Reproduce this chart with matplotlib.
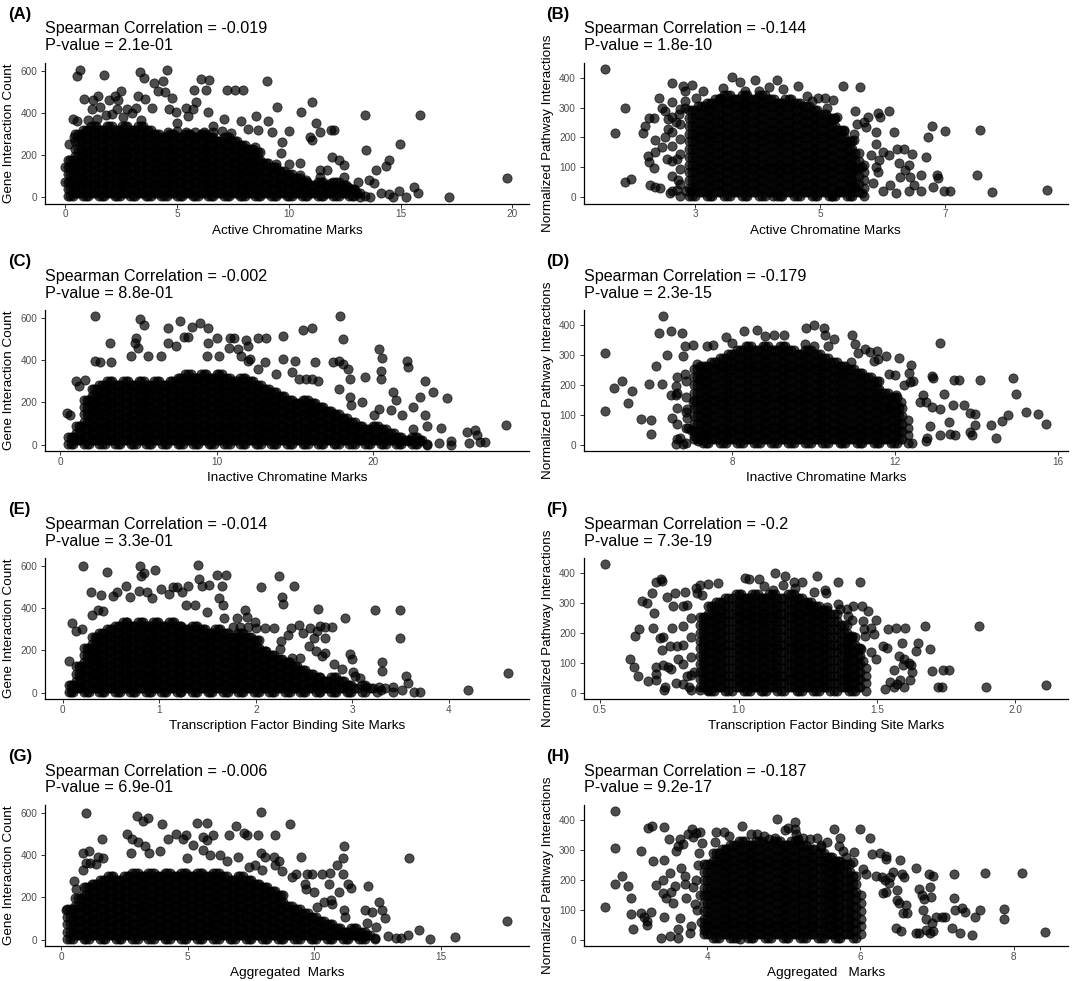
import matplotlib
matplotlib.use("Agg")
import matplotlib.pyplot as plt

plt.rcParams['font.family'] = ['Liberation Sans', 'DejaVu Sans']

# ---------------- data ----------------
panel_tags = ['(A)', '(B)', '(C)', '(D)', '(E)', '(F)', '(G)', '(H)']
spearman = ['-0.019', '-0.144', '-0.002', '-0.179', '-0.014', '-0.2', '-0.006', '-0.187']
pvalues = ['2.1e-01', '1.8e-10', '8.8e-01', '2.3e-15', '3.3e-01', '7.3e-19', '6.9e-01', '9.2e-17']
x_labels = ['Active Chromatine Marks', 'Active Chromatine Marks',
            'Inactive Chromatine Marks', 'Inactive Chromatine Marks',
            'Transcription Factor Binding Site Marks', 'Transcription Factor Binding Site Marks',
            'Aggregated  Marks', 'Aggregated   Marks']
y_labels = ['Gene Interaction Count', 'Normalized Pathway Interactions'] * 4
x_ticks = [[0, 5, 10, 15, 20], [3, 5, 7], [0, 10, 20], [8, 12, 16],
           [0, 1, 2, 3, 4], [0.5, 1.0, 1.5, 2.0], [0, 5, 10, 15], [4, 6, 8]]
x_ticklabels = [['0', '5', '10', '15', '20'], ['3', '5', '7'], ['0', '10', '20'], ['8', '12', '16'],
                ['0', '1', '2', '3', '4'], ['0.5', '1.0', '1.5', '2.0'], ['0', '5', '10', '15'], ['4', '6', '8']]
x_limits = [(-0.92, 20.75), (1.21, 8.96), (-1.0, 30.0), (4.35, 16.25),
            (-0.186, 4.83), (0.44, 2.19), (-0.64, 18.47), (2.385, 8.71)]
y_ticks_gene = [0, 200, 400, 600]
y_ticks_path = [0, 100, 200, 300, 400]
y_limits_gene = (-30.4, 638.4)
y_limits_path = (-21.5, 451.5)

# isolated / edge points (x, y)
A_pts = [(0.65,605),(0.54,573),(1.74,581),(3.32,594),(3.52,566),(4.55,605),(3.96,542),(4.35,553),
(6.06,558),(6.41,555),(5.74,506),(6.30,506),(5.83,453),(6.40,402),(7.23,506),(7.60,506),(7.96,506),
(9.02,550),(8.51,383),(9.05,362),(9.48,425),(9.68,261),(9.64,209),(10.02,312),(10.56,402),(11.03,452),
(11.22,350),(11.41,308),(10.95,284),(11.03,269),(11.87,316),(12.03,316),(11.95,191),(12.26,175),(12.49,152),
(11.72,128),(11.38,128),(13.42,389),(13.46,222),(13.91,128),(14.37,147),(14.50,178),(14.96,253),(15.88,389),
(15.62,47),(15.80,19),(14.93,27),(14.65,0),(14.11,19),(15.23,0),(17.15,0),(19.77,89),(13.57,81),(13.80,69),
(13.10,73),(14.50,14),(13.65,0),(13.20,0),
(0.85,464),(1.23,459),(1.46,480),(1.97,459),(2.24,480),(2.50,503),(2.36,459),(1.20,417),(1.57,425),(2.78,417),
(3.16,422),(3.27,480),(3.55,464),(3.86,422),(4.16,503),(4.44,500),(4.78,472),(4.63,417),(4.97,402),(5.01,350),
(5.40,422),(5.47,386),(5.71,417),(6.63,339),(7.09,370),(7.86,362),(8.17,323),(0.34,370),(0.15,253),(0.0,144),
(0.0,73),(0.39,284),(8.48,237),(9.25,308),(8.63,316),(9.41,159),(10.02,159),(10.49,164),(10.49,105),(10.79,81),
(11.41,97),(11.87,66),(12.49,97),(12.64,50),(12.95,34),
(4.6,310),(5.0,312),(5.4,310),(5.8,308),(6.2,310),(6.6,308),(7.0,312),(7.4,306),
(1.0,365),(1.4,370),(1.8,390),(2.1,395),(2.6,380),(3.0,400),(3.4,365),(2.3,420),(0.54,362)]

C_pts = [(2.20,608),(5.07,595),(5.36,569),(6.90,553),(7.65,584),(8.45,558),(8.93,576),(9.44,553),(7.94,511),(8.16,511),
(10.03,506),(10.87,506),(11.14,506),(12.63,506),(13.19,506),(14.27,514),(15.50,545),(16.10,553),(17.93,608),(18.08,499),
(11.90,494),(12.02,467),(4.85,506),(4.79,483),(4.96,460),(4.52,421),(5.62,421),(3.20,483),(2.20,397),(2.54,390),
(3.24,390),(6.46,421),(6.90,483),(7.39,467),(9.37,421),(10.14,421),(9.48,483),(10.80,460),(11.36,452),(11.58,421),
(12.13,405),(12.02,397),(13.08,390),(12.68,358),(13.78,335),(14.22,405),(14.99,397),(14.84,343),(16.31,390),(17.42,390),
(17.86,397),(18.08,382),(18.41,358),(18.52,312),(17.86,265),(18.52,226),(18.59,187),(19.34,203),(19.51,319),(20.07,140),
(20.40,455),(20.58,413),(20.51,351),(20.51,312),(20.40,171),(21.28,249),(21.50,210),(21.17,164),(21.90,140),(22.16,397),
(22.27,366),(22.60,179),(23.04,226),(23.37,304),(23.88,249),(23.31,140),(22.60,73),(23.48,86),(24.37,78),(24.77,223),
(24.26,8),(25.03,16),(25.03,0),(26.02,62),(26.53,70),(26.68,47),(26.13,8),(26.84,11),(27.19,11),(28.55,94),
(23.48,0),(21.76,16),(23.04,16),(22.27,16),(15.3,310),(15.7,310),(16.1,310),(16.5,300),
(0.45,150),(0.6,140),(1.2,280),(1.0,300),(1.6,305)]

E_pts = [(0.21,600),(0.46,572),(0.29,479),(0.40,464),(0.52,460),(0.56,479),(0.66,504),(0.80,600),(0.81,553),(0.84,569),
(0.96,581),(1.02,491),(0.79,484),(0.87,476),(0.92,448),(0.70,453),(1.10,468),(1.14,499),(1.18,502),(1.24,476),
(1.30,504),(1.40,603),(1.41,541),(1.44,504),(1.51,510),(1.60,557),(1.69,557),(1.65,504),(1.62,448),(1.66,417),
(1.67,355),(1.28,414),(1.37,414),(1.49,383),(1.81,355),(1.89,391),(1.91,360),(1.99,336),(2.05,502),(2.24,553),
(2.27,453),(2.28,422),(2.40,504),(2.10,305),(2.19,305),(2.36,305),(2.45,321),(2.33,274),(2.26,243),(2.25,205),
(2.37,166),(2.46,166),(2.49,282),(2.56,308),(2.63,290),(2.67,318),(2.72,313),(2.64,398),(2.79,313),(2.72,259),
(2.72,189),(2.60,259),(2.55,220),(2.62,197),(2.69,174),(2.81,135),(2.89,112),(2.92,352),(2.98,181),(3.00,158),
(3.01,96),(3.03,81),(3.08,70),(3.14,26),(3.28,26),(3.30,11),(3.23,391),(3.31,143),(3.31,104),(3.49,391),
(3.49,259),(3.51,11),(3.56,81),(3.58,45),(3.64,3),(3.70,3),(3.42,26),(4.20,14),(4.61,91),
(1.76,310),(1.84,310),(1.92,310),(2.00,305),(0.10,330),(0.14,290),(0.06,150),(0.20,300),(0.30,370),(0.36,390),(0.42,385)]

G_pts = [(0.99,600),(3.00,588),(3.23,564),(3.44,575),(3.98,549),(5.37,554),(5.75,554),(5.75,472),(5.61,487),(5.99,498),
(6.63,498),(6.92,538),(7.21,507),(7.35,498),(7.76,498),(7.88,603),(8.46,495),(9.04,549),(1.60,475),(1.10,421),
(0.86,410),(2.60,503),(2.79,479),(3.03,464),(3.30,445),(2.76,410),(3.46,410),(3.89,418),(4.23,479),(4.52,503),
(4.80,479),(4.93,495),(5.20,448),(4.97,387),(5.61,425),(5.88,402),(6.29,402),(6.56,371),(6.97,394),(7.40,343),
(7.65,356),(7.89,410),(8.06,390),(7.92,332),(8.40,394),(8.46,356),(8.60,371),(8.74,325),(9.12,297),(9.48,394),
(9.28,309),(9.69,309),(9.62,263),(9.65,240),(9.99,224),(9.89,309),(10.30,309),(10.61,317),(10.88,356),(11.13,387),
(11.18,445),(11.11,309),(10.57,263),(10.67,186),(10.98,224),(11.32,263),(11.45,247),(12.13,255),(10.10,155),(10.37,178),
(10.71,170),(11.18,139),(11.22,108),(12.00,139),(12.07,77),(12.27,131),(12.54,178),(12.68,139),(12.79,101),(12.43,62),
(12.92,15),(13.22,8),(13.42,8),(13.70,23),(14.14,46),(13.74,387),(14.58,3),(15.56,11),(17.60,90),(11.70,15),
(12.00,15),(12.40,8),(0.18,139),(0.52,278),(0.61,240),(0.99,363),(0.86,332),(1.15,363),(1.47,394),(1.37,359),(1.67,387)]

B_pts = [(1.56,430),(1.71,215),(1.88,298),(1.88,52),(1.97,60),(2.16,215),(2.20,240),(2.25,265),(2.33,265),(2.42,334),
(2.46,298),(2.51,290),(2.24,137),(2.35,151),(2.27,41),(2.36,35),(2.43,30),(2.25,117),(2.33,96),(2.35,190),
(2.46,168),(2.62,383),(2.63,320),(2.56,262),(2.56,229),(2.54,129),(2.51,200),(2.69,251),(2.74,279),(2.80,372),
(2.94,376),(2.83,356),(2.83,323),(2.83,298),(2.70,129),(2.72,57),(2.70,24),(2.85,22),(2.93,22),(3.01,334),
(3.12,356),(2.59,13),
(3.58,402),(3.72,386),(3.95,392),(4.31,392),(4.18,369),(3.44,365),(3.39,334),(3.80,356),(4.02,356),(4.40,361),
(4.64,372),(4.79,339),(4.96,334),(5.08,334),(5.20,325),(5.36,372),(5.64,369),(4.87,323),(5.11,298),(5.26,267),
(5.22,262),(5.55,290),(5.37,223),(5.58,245),(5.70,253),(5.76,270),(5.73,234),(5.53,210),(5.53,190),(5.92,282),
(6.09,290),(5.96,267),(5.89,218),(6.00,151),(5.94,124),(5.89,102),(5.92,85),(5.84,46),(6.00,19),(6.11,41),
(6.18,218),(6.10,140),(6.25,113),(6.28,69),(6.36,91),(6.42,107),(6.47,144),(6.43,69),(6.49,41),(6.21,13),
(6.42,19),(6.61,74),(6.61,19),(6.69,135),(6.72,201),(6.79,240),(6.80,35),(6.86,74),(6.88,63),(6.97,21),
(7.08,21),(6.99,223),(7.50,74),(7.56,225),(7.74,17),(8.62,24),(6.23,162),(6.34,162),(5.89,179),(5.81,140),
(5.67,102),(5.53,91),(5.56,35),(5.66,13),(5.29,19),(5.18,2),(4.24,2)]

D_pts = [(4.88,306),(4.88,112),(5.09,190),(5.29,212),(5.44,138),(5.55,179),(5.76,86),(6.01,83),(6.01,35),(5.95,204),
(6.12,264),(6.20,375),(6.30,430),(6.29,204),(6.39,300),(6.50,382),(6.77,375),(6.79,298),(6.84,331),(7.05,333),
(6.84,237),(6.61,198),(6.61,168),(6.50,165),(6.52,88),(6.62,2),(6.71,22),(6.79,2),(6.92,55),(7.00,50),
(7.06,28),(7.26,28),(7.17,11),(7.13,270),(7.22,264),(7.38,331),(7.54,333),(7.20,220),(7.05,143),(6.88,121),
(6.90,88),(7.85,361),(7.99,342),(8.29,380),(8.61,386),(8.82,364),(9.03,366),(9.28,369),(9.81,391),(10.02,400),
(10.25,391),(10.28,366),(10.51,353),(10.35,331),(9.79,336),(10.00,331),(10.95,369),(11.03,339),(11.10,306),(10.93,278),
(11.27,320),(11.39,311),(11.56,314),(11.77,298),(11.59,287),(11.48,281),(12.09,292),(12.39,267),(12.35,240),(12.01,234),
(11.86,237),(12.36,209),(12.45,215),(12.21,200),(12.68,165),(12.77,143),(12.62,143),(12.91,229),(12.94,223),(13.11,342),
(13.21,171),(12.91,125),(13.11,118),(12.87,61),(12.78,22),(12.77,13),(12.43,5),(13.11,33),(13.33,77),(13.42,134),
(13.44,217),(13.58,217),(13.36,35),(13.47,31),(13.70,134),(13.84,105),(13.97,101),(13.84,42),(13.88,31),(14.09,217),
(13.97,66),(14.37,66),(14.49,22),(14.64,79),(14.77,99),(14.89,224),(14.98,171),(15.23,108),(15.51,102),(15.70,69),
(12.03,165),(12.16,143),(11.86,121)]

F_pts = [(0.519,430),(0.608,113),(0.621,87),(0.627,190),(0.639,215),(0.637,54),(0.652,308),(0.670,301),(0.674,39),(0.689,334),
(0.695,267),(0.692,218),(0.701,85),(0.701,63),(0.701,43),(0.701,372),(0.720,381),(0.724,375),(0.716,182),(0.726,185),
(0.724,143),(0.726,91),(0.733,19),(0.729,8),(0.745,85),(0.741,319),(0.751,157),(0.757,80),(0.770,334),(0.764,290),
(0.761,218),(0.774,32),(0.776,157),(0.782,113),(0.807,339),(0.813,295),(0.813,57),(0.820,19),(0.838,69),(0.848,350),
(0.861,361),(0.888,364),(0.869,328),(0.851,334),(0.861,8),(0.888,8),(0.925,367),(1.025,386),(1.037,381),(1.075,381),
(1.093,356),(1.124,345),(1.131,400),(1.168,392),(1.162,361),(1.199,372),(1.228,370),(1.205,352),(1.271,339),(1.284,392),
(1.311,345),(1.317,334),(1.321,286),(1.255,295),(1.361,370),(1.438,370),(1.358,297),(1.367,282),(1.392,282),(1.396,256),
(1.413,290),(1.445,290),(1.466,273),(1.448,240),(1.410,245),(1.495,242),(1.491,198),(1.479,218),(1.454,215),(1.458,190),
(1.410,190),(1.442,146),(1.479,135),(1.498,113),(1.448,107),(1.520,157),(1.535,151),(1.541,215),(1.560,76),(1.570,218),
(1.578,124),(1.597,113),(1.603,218),(1.582,43),(1.594,91),(1.572,30),(1.560,19),(1.547,35),(1.529,13),(1.591,168),
(1.616,98),(1.622,91),(1.628,69),(1.619,41),(1.597,19),(1.641,140),(1.647,165),(1.674,223),(1.690,146),(1.697,71),
(1.719,19),(1.734,19),(1.740,76),(1.759,76),(1.868,223),(1.893,19),(2.109,24)]

H_pts = [(2.67,110),(2.80,431),(2.80,306),(2.80,188),(2.89,212),(2.96,179),(3.00,138),(3.00,85),(3.03,35),(3.13,298),
(3.13,88),(3.18,77),(3.22,61),(3.22,50),(3.23,373),(3.28,381),(3.27,91),(3.29,263),(3.33,182),(3.40,6),
(3.42,155),(3.44,378),(3.42,201),(3.43,267),(3.44,77),(3.46,138),(3.50,337),(3.51,11),(3.52,223),(3.53,160),
(3.55,122),(3.58,179),(3.59,298),(3.62,315),(3.62,6),(3.62,35),(3.64,72),(3.65,337),(3.69,320),(3.66,241),
(3.72,138),(3.75,354),(3.80,370),(3.71,215),(3.71,188),(3.77,22),(3.79,44),(3.81,345),(3.86,359),(3.91,362),
(3.93,323),(3.96,33),(4.10,329),(4.11,362),(4.22,361),(4.29,348),(4.45,381),(4.43,2),(4.57,354),(4.65,354),
(4.74,348),(4.81,337),(4.91,403),(4.88,342),(5.02,367),(5.05,376),(5.14,396),(5.14,370),(5.16,354),(5.19,337),
(5.25,342),(5.34,337),(5.43,342),(5.48,318),(5.49,309),(5.57,326),(5.66,370),(5.74,342),(5.72,315),(5.77,298),
(5.72,249),(5.81,276),(5.90,260),(5.92,293),(6.00,372),(6.04,238),(6.07,221),(6.13,342),(6.15,287),(6.25,290),
(6.33,282),(6.34,271),(6.21,215),(6.28,210),(6.32,199),(6.39,210),(6.37,191),(6.42,227),(6.52,267),(6.54,221),
(6.57,210),(6.30,155),(6.34,160),(6.48,166),(6.48,133),(6.51,122),(6.60,116),(6.55,88),(6.53,28),(6.46,39),
(6.61,88),(6.72,241),(6.76,171),(6.80,149),(6.82,99),(6.86,69),(6.77,22),(6.72,22),(6.83,135),(6.89,219),
(6.91,177),(6.92,144),(6.95,215),(6.93,55),(6.86,33),(6.91,22),(6.95,28),(6.99,77),(7.06,77),(7.11,77),
(7.19,39),(7.22,219),(7.22,138),(7.24,99),(7.30,22),(7.33,105),(7.36,94),(7.56,99),(7.50,77),(7.46,17),
(7.63,223),(7.88,103),(7.88,69),(8.11,223),(8.41,25),
(3.88,250),(3.85,200),(3.90,150),(3.87,100),(3.92,60),(3.89,290),(3.82,175),(3.84,120)]

# dense cores: ((x values), [y values]) -- columns of overlapping points
A_core = [((0.10,0.22,0.33),[3,38,73,108,143,178]),((0.45,0.57,0.68),[20,55,90,125,160,195,230,265,300]),
((0.80,0.92,1.03),[3,38,73,108,143,178,213,248,283,318]),((1.15,1.27,1.38),[20,55,90,125,160,195,230,265,300,335]),
((1.50,1.62,1.73),[3,38,73,108,143,178,213,248,283,318]),((1.85,1.97,2.08),[20,55,90,125,160,195,230,265,300,335]),
((2.20,2.32,2.43),[3,38,73,108,143,178,213,248,283,318]),((2.55,2.67,2.78),[20,55,90,125,160,195,230,265,300,335]),
((2.90,3.02,3.13),[3,38,73,108,143,178,213,248,283,318]),((3.25,3.37,3.48),[20,55,90,125,160,195,230,265,300,335]),
((3.60,3.72,3.83),[3,38,73,108,143,178,213,248,283,318]),((3.95,4.07,4.18),[20,55,90,125,160,195,230,265,300]),
((4.30,4.42,4.53),[3,38,73,108,143,178,213,248,283]),((4.65,4.77,4.88),[20,55,90,125,160,195,230,265,300]),
((5.00,5.12,5.23),[3,38,73,108,143,178,213,248,283]),((5.35,5.47,5.58),[20,55,90,125,160,195,230,265,300]),
((5.70,5.82,5.93),[3,38,73,108,143,178,213,248,283]),((6.05,6.17,6.28),[20,55,90,125,160,195,230,265,300]),
((6.40,6.52,6.63),[3,38,73,108,143,178,213,248,283]),((6.75,6.87,6.98),[20,55,90,125,160,195,230,265]),
((7.10,7.22,7.33),[3,38,73,108,143,178,213,248,283]),((7.45,7.57,7.68),[20,55,90,125,160,195,230,265]),
((7.80,7.92,8.03),[3,38,73,108,143,178,213,248]),((8.15,8.27,8.38),[20,55,90,125,160,195,230]),
((8.50,8.62,8.73),[3,38,73,108,143,178,213]),((8.85,8.97,9.08),[20,55,90,125,160]),((9.20,9.32,9.43),[3,38,73,108,143]),
((9.55,9.67,9.78),[20,55,90,125]),((9.90,10.02,10.13),[3,38,73,108]),((10.25,10.37,10.48),[20,55,90]),
((10.60,10.72,10.83),[3,38,73]),((10.95,11.07,11.18),[20,55]),((11.30,11.42,11.53),[3,38,73]),
((11.65,11.77,11.88),[20,55]),((12.00,12.12,12.23),[3,38,73]),((12.35,12.47,12.58),[20,55]),
((12.70,12.82,12.93),[3,38]),((13.05,13.17),[20]),((13.40,),[3])]

C_core = [((0.5,0.67,0.83),[3,38]),((1.0,1.17,1.33),[20,55,90]),((1.5,1.67,1.83),[3,38,73,108,143,178,213]),
((2.0,2.17,2.33),[20,55,90,125,160,195,230,265]),((2.5,2.67,2.83),[3,38,73,108,143,178,213,248,283]),
((3.0,3.17,3.33),[20,55,90,125,160,195,230,265,300]),((3.5,3.67,3.83),[3,38,73,108,143,178,213,248,283]),
((4.0,4.17,4.33),[20,55,90,125,160,195,230,265,300]),((4.5,4.67,4.83),[3,38,73,108,143,178,213,248,283]),
((5.0,5.17,5.33),[20,55,90,125,160,195,230,265,300]),((5.5,5.67,5.83),[3,38,73,108,143,178,213,248,283]),
((6.0,6.17,6.33),[20,55,90,125,160,195,230,265,300]),((6.5,6.67,6.83),[3,38,73,108,143,178,213,248,283]),
((7.0,7.17,7.33),[20,55,90,125,160,195,230,265,300]),((7.5,7.67,7.83),[3,38,73,108,143,178,213,248,283,318]),
((8.0,8.17,8.33),[20,55,90,125,160,195,230,265,300,335]),((8.5,8.67,8.83),[3,38,73,108,143,178,213,248,283,318]),
((9.0,9.17,9.33),[20,55,90,125,160,195,230,265,300,335]),((9.5,9.67,9.83),[3,38,73,108,143,178,213,248,283,318]),
((10.0,10.17,10.33),[20,55,90,125,160,195,230,265,300,335]),((10.5,10.67,10.83),[3,38,73,108,143,178,213,248,283,318]),
((11.0,11.17,11.33),[20,55,90,125,160,195,230,265,300]),((11.5,11.67,11.83),[3,38,73,108,143,178,213,248,283,318]),
((12.0,12.17,12.33),[20,55,90,125,160,195,230,265,300]),((12.5,12.67,12.83),[3,38,73,108,143,178,213,248,283]),
((13.0,13.17,13.33),[20,55,90,125,160,195,230,265]),((13.5,13.67,13.83),[3,38,73,108,143,178,213,248]),
((14.0,14.17,14.33),[20,55,90,125,160,195,230]),((14.5,14.67,14.83),[3,38,73,108,143,178,213]),
((15.0,15.17,15.33),[20,55,90,125,160,195]),((15.5,15.67,15.83),[3,38,73,108,143,178,213]),
((16.0,16.17,16.33),[20,55,90,125,160,195]),((16.5,16.67,16.83),[3,38,73,108,143,178]),
((17.0,17.17,17.33),[20,55,90,125,160]),((17.5,17.67,17.83),[3,38,73,108,143]),
((18.0,18.17,18.33),[20,55,90,125]),((18.5,18.67,18.83),[3,38,73,108]),((19.0,19.17,19.33),[20,55,90]),
((19.5,19.67,19.83),[3,38,73]),((20.0,20.17,20.33),[20,55,90]),((20.5,20.67,20.83),[3,38,73]),
((21.0,21.17,21.33),[20,55]),((21.5,21.67,21.83),[3,38]),((22.0,22.17,22.33),[20]),
((22.5,22.67,22.83),[3,38]),((23.0,23.17),[20]),((23.5,),[3])]

E_core = [((0.06,0.09,0.11),[3,38]),((0.14,0.17,0.19),[20,55,90,125]),((0.22,0.25,0.27),[3,38,73,108,143,178,213]),
((0.30,0.33,0.35),[20,55,90,125,160,195,230,265]),((0.38,0.41,0.43),[3,38,73,108,143,178,213,248,283]),
((0.46,0.49,0.51),[20,55,90,125,160,195,230,265,300]),((0.54,0.57,0.59),[3,38,73,108,143,178,213,248,283,318]),
((0.62,0.65,0.67),[20,55,90,125,160,195,230,265,300,335]),((0.70,0.73,0.75),[3,38,73,108,143,178,213,248,283,318]),
((0.78,0.81,0.83),[20,55,90,125,160,195,230,265,300,335]),((0.86,0.89,0.91),[3,38,73,108,143,178,213,248,283,318]),
((0.94,0.97,0.99),[20,55,90,125,160,195,230,265,300,335]),((1.02,1.05,1.07),[3,38,73,108,143,178,213,248,283,318]),
((1.10,1.13,1.15),[20,55,90,125,160,195,230,265,300,335]),((1.18,1.21,1.23),[3,38,73,108,143,178,213,248,283,318]),
((1.26,1.29,1.31),[20,55,90,125,160,195,230,265,300]),((1.34,1.37,1.39),[3,38,73,108,143,178,213,248,283,318]),
((1.42,1.45,1.47),[20,55,90,125,160,195,230,265,300]),((1.50,1.53,1.55),[3,38,73,108,143,178,213,248,283]),
((1.58,1.61,1.63),[20,55,90,125,160,195,230,265,300]),((1.66,1.69,1.71),[3,38,73,108,143,178,213,248,283]),
((1.74,1.77,1.79),[20,55,90,125,160,195,230,265]),((1.82,1.85,1.87),[3,38,73,108,143,178,213,248,283]),
((1.90,1.93,1.95),[20,55,90,125,160,195,230,265]),((1.98,2.01,2.03),[3,38,73,108,143,178,213,248]),
((2.06,2.09,2.11),[20,55,90,125,160,195]),((2.14,2.17,2.19),[3,38,73,108,143,178]),
((2.22,2.25,2.27),[20,55,90,125,160]),((2.30,2.33,2.35),[3,38,73,108,143]),((2.38,2.41,2.43),[20,55,90,125]),
((2.46,2.49,2.51),[3,38,73,108]),((2.54,2.57,2.59),[20,55,90]),((2.62,2.65,2.67),[3,38,73]),
((2.70,2.73,2.75),[20,55]),((2.78,2.81,2.83),[3,38,73]),((2.86,2.89,2.91),[20,55]),((2.94,2.97,2.99),[3,38]),
((3.02,3.05),[20]),((3.10,3.13),[3,38]),((3.18,3.21),[20]),((3.26,),[3]),((3.34,),[20]),((3.42,),[3])]

G_core = [((0.25,0.36,0.46),[3,38,73,108,143]),((0.57,0.68,0.78),[20,55,90,125,160,195]),
((0.89,1.00,1.10),[3,38,73,108,143,178,213,248]),((1.21,1.32,1.42),[20,55,90,125,160,195,230,265]),
((1.53,1.64,1.74),[3,38,73,108,143,178,213,248,283]),((1.85,1.96,2.06),[20,55,90,125,160,195,230,265,300]),
((2.17,2.28,2.38),[3,38,73,108,143,178,213,248,283]),((2.49,2.60,2.70),[20,55,90,125,160,195,230,265,300]),
((2.81,2.92,3.02),[3,38,73,108,143,178,213,248,283,318]),((3.13,3.24,3.34),[20,55,90,125,160,195,230,265,300]),
((3.45,3.56,3.66),[3,38,73,108,143,178,213,248,283,318]),((3.77,3.88,3.98),[20,55,90,125,160,195,230,265,300]),
((4.09,4.20,4.30),[3,38,73,108,143,178,213,248,283,318]),((4.41,4.52,4.62),[20,55,90,125,160,195,230,265,300]),
((4.73,4.84,4.94),[3,38,73,108,143,178,213,248,283,318]),((5.05,5.16,5.26),[20,55,90,125,160,195,230,265,300]),
((5.37,5.48,5.58),[3,38,73,108,143,178,213,248,283,318]),((5.69,5.80,5.90),[20,55,90,125,160,195,230,265,300]),
((6.01,6.12,6.22),[3,38,73,108,143,178,213,248,283,318]),((6.33,6.44,6.54),[20,55,90,125,160,195,230,265,300]),
((6.65,6.76,6.86),[3,38,73,108,143,178,213,248,283]),((6.97,7.08,7.18),[20,55,90,125,160,195,230,265,300]),
((7.29,7.40,7.50),[3,38,73,108,143,178,213,248,283]),((7.61,7.72,7.82),[20,55,90,125,160,195,230,265]),
((7.93,8.04,8.14),[3,38,73,108,143,178,213,248]),((8.25,8.36,8.46),[20,55,90,125,160,195,230]),
((8.57,8.68,8.78),[3,38,73,108,143,178,213]),((8.89,9.00,9.10),[20,55,90,125,160]),
((9.21,9.32,9.42),[3,38,73,108,143]),((9.53,9.64,9.74),[20,55,90,125]),((9.85,9.96,10.06),[3,38,73,108]),
((10.17,10.28,10.38),[20,55,90]),((10.49,10.60,10.70),[3,38,73]),((10.81,10.92,11.02),[20,55]),
((11.13,11.24,11.34),[3,38]),((11.45,11.56,11.66),[20,55]),((11.77,11.88,11.98),[3,38]),((12.09,12.20),[20]),((12.41,),[3])]

B_core = [((2.62,),[20,70,120,170,220,270]),((2.76,),[5,45,95,145,195,245,295]),
((2.90,2.95,2.99),[5,31,57,83,109,135,161,187,213,239,265,291]),
((3.04,3.09,3.13),[18,44,70,96,122,148,174,200,226,252,278,304]),
((3.18,3.23,3.27),[5,31,57,83,109,135,161,187,213,239,265,291,317]),
((3.32,3.37,3.41),[18,44,70,96,122,148,174,200,226,252,278,304,330]),
((3.46,3.51,3.55),[5,31,57,83,109,135,161,187,213,239,265,291,317,343]),
((3.60,3.65,3.69),[18,44,70,96,122,148,174,200,226,252,278,304,330]),
((3.74,3.79,3.83),[5,31,57,83,109,135,161,187,213,239,265,291,317,343]),
((3.88,3.93,3.97),[18,44,70,96,122,148,174,200,226,252,278,304,330]),
((4.02,4.07,4.11),[5,31,57,83,109,135,161,187,213,239,265,291,317,343]),
((4.16,4.21,4.25),[18,44,70,96,122,148,174,200,226,252,278,304,330]),
((4.30,4.35,4.39),[5,31,57,83,109,135,161,187,213,239,265,291,317]),
((4.44,4.49,4.53),[18,44,70,96,122,148,174,200,226,252,278,304,330]),
((4.58,4.63,4.67),[5,31,57,83,109,135,161,187,213,239,265,291,317]),
((4.72,4.77,4.81),[18,44,70,96,122,148,174,200,226,252,278,304]),
((4.86,4.91,4.95),[5,31,57,83,109,135,161,187,213,239,265,291]),
((5.00,5.05,5.09),[18,44,70,96,122,148,174,200,226,252,278]),
((5.14,5.19,5.23),[5,31,57,83,109,135,161,187,213,239,265]),
((5.28,5.33,5.37),[18,44,70,96,122,148,174,200,226]),
((5.42,5.47,5.51),[5,31,57,83,109,135,161,187]),
((5.56,5.61),[18,44,70,96,122,148]),
((5.70,),[5,31,57,83,109])]

D_core = [((6.65,),[18,70,122,174,226]),((6.86,),[5,57,109,161,213]),
((7.07,7.14,7.21),[18,44,70,96,122,148,174,200,226,252]),
((7.28,7.35,7.42),[5,31,57,83,109,135,161,187,213,239,265]),
((7.49,7.56,7.63),[18,44,70,96,122,148,174,200,226,252,278]),
((7.70,7.77,7.84),[5,31,57,83,109,135,161,187,213,239,265,291]),
((7.91,7.98,8.05),[18,44,70,96,122,148,174,200,226,252,278,304]),
((8.12,8.19,8.26),[5,31,57,83,109,135,161,187,213,239,265,291,317]),
((8.33,8.40,8.47),[18,44,70,96,122,148,174,200,226,252,278,304,330]),
((8.54,8.61,8.68),[5,31,57,83,109,135,161,187,213,239,265,291,317]),
((8.75,8.82,8.89),[18,44,70,96,122,148,174,200,226,252,278,304,330]),
((8.96,9.03,9.10),[5,31,57,83,109,135,161,187,213,239,265,291,317]),
((9.17,9.24,9.31),[18,44,70,96,122,148,174,200,226,252,278,304,330]),
((9.38,9.45,9.52),[5,31,57,83,109,135,161,187,213,239,265,291,317]),
((9.59,9.66,9.73),[18,44,70,96,122,148,174,200,226,252,278,304]),
((9.80,9.87,9.94),[5,31,57,83,109,135,161,187,213,239,265,291,317]),
((10.01,10.08,10.15),[18,44,70,96,122,148,174,200,226,252,278,304]),
((10.22,10.29,10.36),[5,31,57,83,109,135,161,187,213,239,265,291]),
((10.43,10.50,10.57),[18,44,70,96,122,148,174,200,226,252,278]),
((10.64,10.71,10.78),[5,31,57,83,109,135,161,187,213,239,265]),
((10.85,10.92,10.99),[18,44,70,96,122,148,174,200,226,252]),
((11.06,11.13,11.20),[5,31,57,83,109,135,161,187,213,239]),
((11.27,11.34,11.41),[18,44,70,96,122,148,174,200,226]),
((11.48,11.55,11.62),[5,31,57,83,109,135,161,187,213]),
((11.69,11.76,11.83),[18,44,70,96,122,148,174]),
((11.90,11.97,12.04),[5,31,57,83,109,135,161]),
((12.11,12.18),[18,44,70,96,122]),
((12.32,),[5,31,57,83])]

F_core = [((0.80,),[30,95,160,225,290]),((0.83,),[10,60,120,185,250]),
((0.86,0.87,0.88),[18,44,70,96,122,148,174,200,226,252]),
((0.89,0.90,0.91),[5,31,57,83,109,135,161,187,213,239,265,291]),
((0.92,0.93,0.94),[18,44,70,96,122,148,174,200,226,252,278,304]),
((0.95,0.963,0.976),[5,31,57,83,109,135,161,187,213,239,265,291,317]),
((0.99,1.00,1.01),[18,44,70,96,122,148,174,200,226,252,278,304,330]),
((1.02,1.03,1.04),[5,31,57,83,109,135,161,187,213,239,265,291,317]),
((1.05,1.06,1.07),[18,44,70,96,122,148,174,200,226,252,278,304,330]),
((1.08,1.09,1.10),[5,31,57,83,109,135,161,187,213,239,265,291,317]),
((1.11,1.12,1.13),[18,44,70,96,122,148,174,200,226,252,278,304,330]),
((1.14,1.153,1.166),[5,31,57,83,109,135,161,187,213,239,265,291,317]),
((1.18,1.19,1.20),[18,44,70,96,122,148,174,200,226,252,278,304,330]),
((1.21,1.22,1.23),[5,31,57,83,109,135,161,187,213,239,265,291,317]),
((1.24,1.25,1.26),[18,44,70,96,122,148,174,200,226,252,278,304]),
((1.27,1.28,1.29),[5,31,57,83,109,135,161,187,213,239,265,291]),
((1.30,1.31,1.32),[18,44,70,96,122,148,174,200,226,252,278]),
((1.33,1.343,1.356),[5,31,57,83,109,135,161,187,213,239,265]),
((1.37,1.38,1.39),[18,44,70,96,122,148,174,200,226]),
((1.40,1.41,1.42),[5,31,57,83,109,135,161,187]),
((1.43,1.44),[18,44,70,96,122,148]),
((1.46,),[5,31,57,83])]

H_core = [((3.96,4.00,4.03),[18,44,70,96,122,148,174,200,226,252]),
((4.07,4.11,4.15),[5,31,57,83,109,135,161,187,213,239,265,291]),
((4.19,4.23,4.26),[18,44,70,96,122,148,174,200,226,252,278,304]),
((4.30,4.34,4.38),[5,31,57,83,109,135,161,187,213,239,265,291,317]),
((4.42,4.46,4.49),[18,44,70,96,122,148,174,200,226,252,278,304,330]),
((4.53,4.57,4.60),[5,31,57,83,109,135,161,187,213,239,265,291,317]),
((4.64,4.68,4.72),[18,44,70,96,122,148,174,200,226,252,278,304,330]),
((4.76,4.80,4.83),[5,31,57,83,109,135,161,187,213,239,265,291,317]),
((4.87,4.91,4.95),[18,44,70,96,122,148,174,200,226,252,278,304,330]),
((4.99,5.03,5.06),[5,31,57,83,109,135,161,187,213,239,265,291,317]),
((5.10,5.14,5.17),[18,44,70,96,122,148,174,200,226,252,278,304,330]),
((5.21,5.25,5.29),[5,31,57,83,109,135,161,187,213,239,265,291,317]),
((5.33,5.37,5.40),[18,44,70,96,122,148,174,200,226,252,278,304]),
((5.44,5.48,5.52),[5,31,57,83,109,135,161,187,213,239,265,291]),
((5.56,5.60,5.63),[18,44,70,96,122,148,174,200,226,252,278]),
((5.67,5.71,5.74),[5,31,57,83,109,135,161,187,213,239,265]),
((5.78,5.82,5.86),[18,44,70,96,122,148,174,200,226,252]),
((5.90,5.94),[5,31,57,83,109,135,161,187,213]),
((6.01,),[18,44,70,96,122,148])]

all_pts = [A_pts, B_pts, C_pts, D_pts, E_pts, F_pts, G_pts, H_pts]
all_cores = [A_core, B_core, C_core, D_core, E_core, F_core, G_core, H_core]

# ---------------- layout (pixels) ----------------
W, H = 1072, 981
fig = plt.figure(figsize=(W / 100, H / 100), dpi=100)
col_left = [44.8, 583.5]
col_right = [529.0, 1068.0]
row_top = [62.5, 310.0, 558.0, 805.0]
ax_h = 141.0
ylabel_x = [8.7, 548.0]
tag_x = [8.5, 546.0]

def fx(px):
    return px / W

def fy(py):
    return 1 - py / H

for i in range(8):
    r, c = divmod(i, 2)
    L, R, T = col_left[c], col_right[c], row_top[r]
    ax = fig.add_axes([fx(L), fy(T + ax_h), (R - L) / W, ax_h / H])
    xs = [p[0] for p in all_pts[i]]
    ys = [p[1] for p in all_pts[i]]
    for cxs, cys in all_cores[i]:
        for cx in cxs:
            xs.extend([cx] * len(cys))
            ys.extend(cys)
    ax.scatter(xs, ys, s=44, c='black', alpha=0.7, edgecolors='black',
               linewidths=0.6, zorder=2, clip_on=False)
    ax.set_xlim(*x_limits[i])
    if c == 0:
        ax.set_ylim(*y_limits_gene)
        ax.set_yticks(y_ticks_gene)
        ax.set_yticklabels([str(v) for v in y_ticks_gene])
    else:
        ax.set_ylim(*y_limits_path)
        ax.set_yticks(y_ticks_path)
        ax.set_yticklabels([str(v) for v in y_ticks_path])
    ax.set_xticks(x_ticks[i])
    ax.set_xticklabels(x_ticklabels[i])
    for s in ['top', 'right']:
        ax.spines[s].set_visible(False)
    for s in ['left', 'bottom']:
        ax.spines[s].set_linewidth(0.9)
        ax.spines[s].set_color('black')
        ax.spines[s].set_zorder(3)
    ax.tick_params(direction='out', length=2.6, width=0.7, color='#333333',
                   labelsize=7.2, labelcolor='#4D4D4D')
    ax.tick_params(axis='x', pad=1.6)
    ax.tick_params(axis='y', pad=2.8)
    ax.set_facecolor('white')

    fig.text(fx(tag_x[c]), fy(T - 56), panel_tags[i], fontsize=12,
             fontweight='bold', va='top', ha='left')
    fig.text(fx(L), fy(T - 29), 'Spearman Correlation = ' + spearman[i],
             fontsize=11.6, va='baseline', ha='left')
    fig.text(fx(L), fy(T - 12.5), 'P-value = ' + pvalues[i],
             fontsize=11.6, va='baseline', ha='left')
    fig.text(fx((L + R) / 2), fy(T + ax_h + 30), x_labels[i], fontsize=9.7,
             va='baseline', ha='center')
    fig.text(fx(ylabel_x[c]), fy(T + ax_h / 2), y_labels[i], fontsize=9.7,
             rotation=90, va='center', ha='center')

fig.savefig('out.png', dpi=100, facecolor='white')
